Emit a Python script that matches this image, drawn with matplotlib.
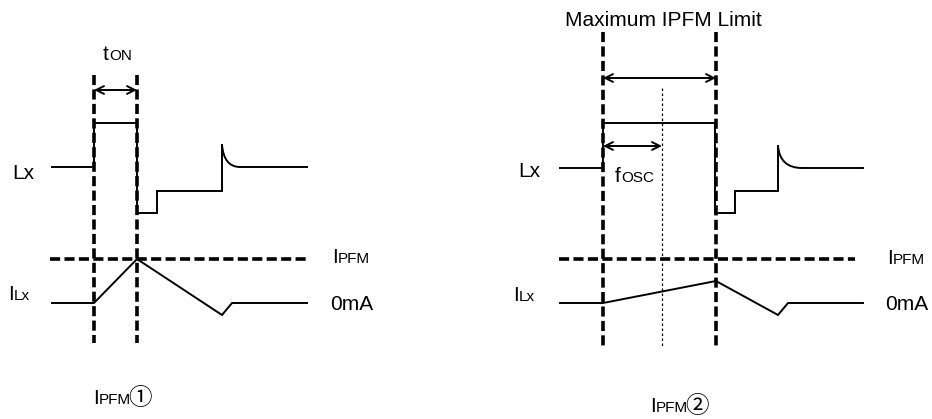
import numpy as np
import matplotlib
matplotlib.use('Agg')
import matplotlib.pyplot as plt
from matplotlib.path import Path
from matplotlib.patches import PathPatch

plt.rcParams['font.family'] = ['Liberation Sans', 'Noto Sans CJK JP', 'DejaVu Sans']

# waveform vertices (pixel units, y down) -- panel 1
lx1_x = [52, 94, 94, 137, 137, 157, 157, 222, 222]
lx1_y = [167, 167, 123, 123, 213, 213, 191, 191, 145]
lx1_decay = [(222, 145), (224, 167), (240, 167)]
lx1_tail_x = [240, 307]
lx1_tail_y = [167, 167]
ilx1_x = [52, 94, 137, 222, 232, 307]
ilx1_y = [303, 303, 259, 315, 303, 303]

# panel 2
lx2_x = [560, 603, 603, 713, 715, 715, 735, 735, 778, 778]
lx2_y = [168, 168, 123, 123, 123, 213, 213, 191, 191, 146]
lx2_decay = [(778, 146), (780, 168), (802, 168)]
lx2_tail_x = [802, 863]
lx2_tail_y = [168, 168]
ilx2_x = [560, 603, 716, 778, 788, 863]
ilx2_y = [303, 303, 281, 315, 303, 303]

# dashed guides
vdash1_x = [94, 137]
vdash1_y = [75, 343]
vdash2_x = [603, 716]
vdash2_y = [32, 348]
ipfm1_x = [50, 306]
ipfm2_x = [559, 855]
ipfm_y = 259
fosc_x = 662
fosc_y = [88, 347]

fig = plt.figure(figsize=(9.32, 4.19), dpi=100)
ax = fig.add_axes([0, 0, 1, 1])
ax.set_xlim(0, 932)
ax.set_ylim(419, 0)
ax.axis('off')

dash = (0, (2.8, 1.2))
for xs, ys in [(vdash1_x, vdash1_y), (vdash2_x, vdash2_y)]:
    for x in xs:
        ax.plot([x, x], ys, color='black', lw=2.6, linestyle=dash, dash_capstyle='butt')
for xs in [ipfm1_x, ipfm2_x]:
    ax.plot(xs, [ipfm_y, ipfm_y], color='black', lw=2.6, linestyle=dash, dash_capstyle='butt')
ax.plot([fosc_x, fosc_x], fosc_y, color='black', lw=0.9, linestyle=(0, (2, 2)))

lw = 1.4
for xs, ys in [(lx1_x, lx1_y), (lx1_tail_x, lx1_tail_y), (ilx1_x, ilx1_y),
               (lx2_x, lx2_y), (lx2_tail_x, lx2_tail_y), (ilx2_x, ilx2_y)]:
    ax.plot(xs, ys, color='black', lw=lw, solid_joinstyle='miter')
for pts in [lx1_decay, lx2_decay]:
    p = Path(pts, [Path.MOVETO, Path.CURVE3, Path.CURVE3])
    ax.add_patch(PathPatch(p, fc='none', ec='black', lw=lw))

# arrows
def darrow(x0, x1, y):
    ax.annotate('', xy=(x1, y), xytext=(x0, y),
                arrowprops=dict(arrowstyle='<->', lw=1.4, color='black',
                                shrinkA=0, shrinkB=0, mutation_scale=14))

darrow(94, 137, 90)
darrow(603, 716, 78)
darrow(603, 662, 146)

renderer = fig.canvas.get_renderer()

def label(x, y, big, small, tail=''):
    t = ax.text(x, y, big, fontsize=15, va='baseline')
    bb = t.get_window_extent(renderer)
    x2 = ax.transData.inverted().transform((bb.x1, 0))[0]
    t2 = ax.text(x2, y, small, fontsize=11, va='baseline')
    if tail:
        bb = t2.get_window_extent(renderer)
        x3 = ax.transData.inverted().transform((bb.x1, 0))[0]
        ax.text(x3 - 3, y + 1, tail, fontsize=17, va='baseline')

# panel 1 text
ax.text(12, 179, 'Lx', fontsize=15, va='baseline')
label(8, 300, 'I', 'Lx')
label(103, 60, 't', 'ON')
label(332, 263, 'I', 'PFM')
ax.text(330, 310, '0mA', fontsize=15, va='baseline')
label(93, 404, 'I', 'PFM', '①')

# panel 2 text
ax.text(663, 26, 'Maximum IPFM Limit', fontsize=15, va='baseline', ha='center')
ax.text(518, 177, 'Lx', fontsize=15, va='baseline')
label(513, 301, 'I', 'Lx')
label(615, 182, 'f', 'OSC')
label(887, 264, 'I', 'PFM')
ax.text(885, 310, '0mA', fontsize=15, va='baseline')
label(650, 412, 'I', 'PFM', '②')

fig.savefig('out.png', dpi=100)
